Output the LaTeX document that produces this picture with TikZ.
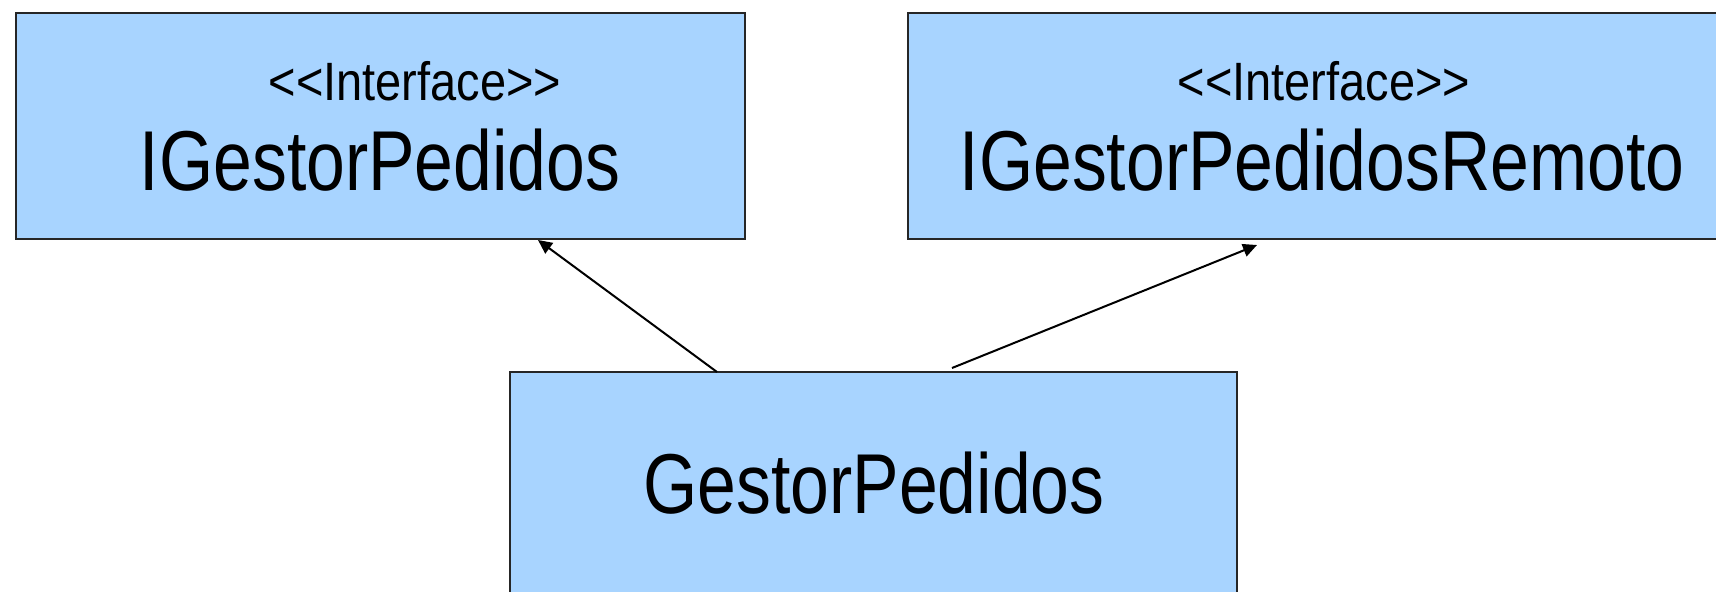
\documentclass[tikz,border=0pt]{standalone}
\usepackage{fontspec}
\setmainfont{Liberation Sans}
\usetikzlibrary{arrows.meta}
\definecolor{boxblue}{RGB}{168,212,255}
\newcommand{\stereotype}[1]{<\kern0pt<#1>\kern0pt>}
\begin{document}
\begin{tikzpicture}[x=0.5pt,y=-0.5pt,
  umlbox/.style={draw=black!85,line width=1pt,fill=boxblue,rectangle,inner sep=0pt},
  stereo/.style={anchor=base,inner sep=0pt,font=\fontsize{27}{32}\selectfont},
  bigname/.style={anchor=base,inner sep=0pt,font=\fontsize{42.5}{50}\selectfont},
  realize/.style={line width=1pt,-{Triangle[length=7pt,width=6.5pt]}}]
  \useasboundingbox (0,0) rectangle (1716,591);
  \clip (0,0) rectangle (1716,591);
  % interface and class boxes
  \node[umlbox,minimum width=364.5pt,minimum height=113pt] (igp) at (380.5,126) {};
  \node[umlbox,minimum width=416pt,minimum height=113pt] (igpr) at (1324,126) {};
  \node[umlbox,minimum width=363.5pt,minimum height=124pt] (gp) at (873.5,496) {};
  % labels
  \node[stereo] (igpst) at (415,100) {\scalebox{0.87}[1]{\stereotype{Interface}}};
  \node[bigname] (igpname) at (380,190) {\scalebox{0.82}[1]{IGestorPedidos}};
  \node[stereo] (igprst) at (1324,100) {\scalebox{0.87}[1]{\stereotype{Interface}}};
  \node[bigname] (igprname) at (1322,190) {\scalebox{0.82}[1]{IGestorPedidosRemoto}};
  \node[bigname] (gpname) at (874,513) {\scalebox{0.82}[1]{GestorPedidos}};
  % connector end points
  \coordinate (gpA) at (717,372);
  \coordinate (igpA) at (538,240);
  \coordinate (gpB) at (952,368);
  \coordinate (igprB) at (1257,245);
  \draw[realize] (gpA) -- (igpA);
  \draw[realize] (gpB) -- (igprB);
\end{tikzpicture}
\end{document}
